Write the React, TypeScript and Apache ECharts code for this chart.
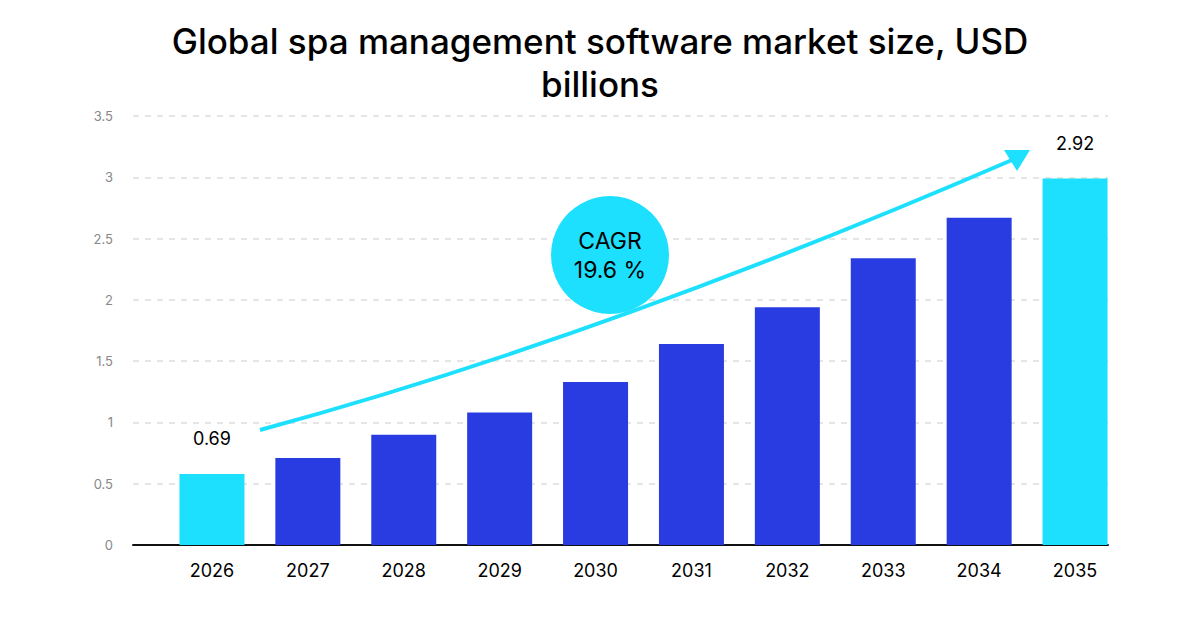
import React, { useEffect, useRef } from "react";
import * as echarts from "echarts";

const years = ["2026", "2027", "2028", "2029", "2030", "2031", "2032", "2033", "2034", "2035"];
const marketSize = [0.58, 0.71, 0.9, 1.08, 1.33, 1.64, 1.94, 2.34, 2.67, 2.99];
const valueLabels = ["0.69", "", "", "", "", "", "", "", "", "2.92"];
const highlighted = [true, false, false, false, false, false, false, false, false, true];
const yTicks = { min: 0, max: 3.5, interval: 0.5 };
const cagrText = "CAGR\n19.6 %";
const titleText = "Global spa management software market size, USD\nbillions";

const CYAN = "#1DE0FE";
const BLUE = "#283CE2";
const FONT = "Inter, 'Noto Sans', sans-serif";

export default function App() {
  const ref = useRef<HTMLDivElement>(null);
  useEffect(() => {
    if (!ref.current) return;
    const chart = echarts.init(ref.current, null, { renderer: "svg" });
    chart.setOption({
      animation: false,
      backgroundColor: "#fff",
      grid: [
        { left: 133, right: 92, top: 116, bottom: 85 },
        { left: 164, right: 77, top: 116, bottom: 85 },
      ],
      xAxis: [
        {
          type: "category",
          gridIndex: 0,
          data: years,
          axisLine: { show: true, lineStyle: { color: "#111", width: 2 } },
          axisTick: { show: false },
          axisLabel: { show: false },
          splitLine: { show: false },
        },
        {
          type: "category",
          gridIndex: 1,
          data: years,
          axisLine: { show: false },
          axisTick: { show: false },
          axisLabel: {
            margin: 16,
            fontFamily: FONT,
            fontSize: 18,
            color: "#000",
          },
        },
      ],
      yAxis: [
        {
          type: "value",
          gridIndex: 0,
          min: yTicks.min,
          max: yTicks.max,
          interval: yTicks.interval,
          axisLine: { show: false },
          axisTick: { show: false },
          axisLabel: {
            margin: 20,
            fontFamily: FONT,
            fontSize: 13,
            color: "#888",
          },
          splitLine: {
            show: true,
            lineStyle: { color: "#dddddd", type: [6, 6], width: 1.5 },
          },
        },
        {
          type: "value",
          gridIndex: 1,
          min: yTicks.min,
          max: yTicks.max,
          interval: yTicks.interval,
          show: false,
          splitLine: { show: false },
        },
      ],
      series: [
        {
          type: "bar",
          xAxisIndex: 1,
          yAxisIndex: 1,
          barWidth: 65,
          data: marketSize.map((v, i) => ({
            value: v,
            itemStyle: { color: highlighted[i] ? CYAN : BLUE },
          })),
          label: {
            show: true,
            position: "top",
            distance: 26,
            fontFamily: FONT,
            fontSize: 18,
            color: "#000",
            formatter: (p: any) => valueLabels[p.dataIndex],
          },
        },
      ],
      graphic: [
        {
          type: "text",
          x: 600,
          y: 19,
          style: {
            text: titleText,
            fontFamily: FONT,
            fontSize: 35,
            fontWeight: 500,
            lineHeight: 43,
            fill: "#000",
            align: "center",
            verticalAlign: "top",
          },
          z: 12,
        },
        {
          type: "bezierCurve",
          shape: { x1: 260, y1: 430, cpx1: 600, cpy1: 338, x2: 1012, y2: 160 },
          style: { stroke: CYAN, lineWidth: 4, fill: null },
          z: 10,
        },
        {
          type: "polygon",
          shape: { points: [[1004, 150], [1030, 150], [1017, 171]] },
          style: { fill: CYAN },
          z: 10,
        },
        {
          type: "circle",
          shape: { cx: 610, cy: 255, r: 59 },
          style: { fill: CYAN },
          z: 11,
        },
        {
          type: "text",
          x: 610,
          y: 255,
          style: {
            text: cagrText,
            fontFamily: FONT,
            fontSize: 23,
            lineHeight: 29,
            fill: "#000",
            align: "center",
            verticalAlign: "middle",
          },
          z: 12,
        },
      ],
    });
    return () => chart.dispose();
  }, []);
  return (
    <div
      ref={ref}
      style={{ position: "fixed", left: 0, top: 0, width: 1200, height: 630 }}
    />
  );
}
